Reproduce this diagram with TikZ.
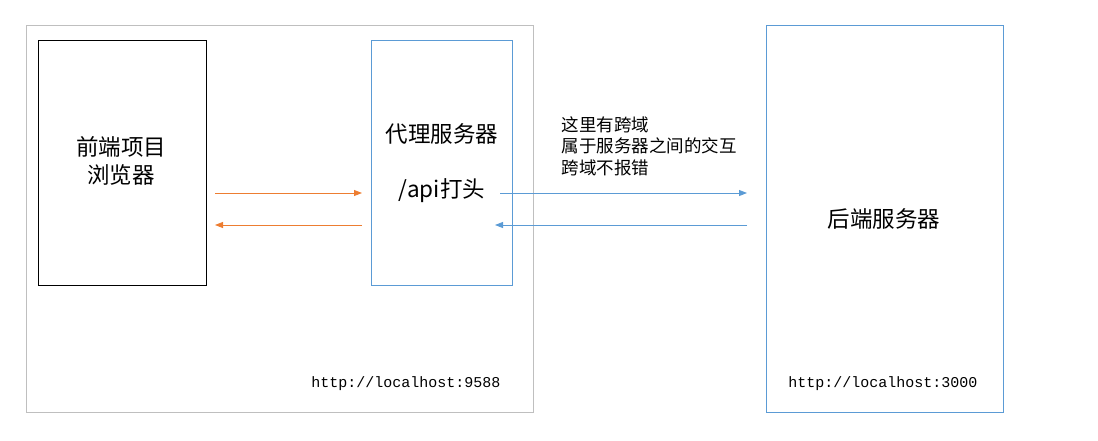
\documentclass[tikz,border=0pt]{standalone}
\usepackage{fontspec}
\setmainfont{Noto Sans CJK SC}
\setmonofont{Liberation Mono}
\usepackage{tikz}
\usetikzlibrary{arrows.meta,positioning}

\definecolor{boxblue}{HTML}{5B9BD5}
\definecolor{arroworange}{HTML}{ED7D31}

\begin{document}
\begin{tikzpicture}[x=1pt,y=-1pt]

\tikzset{box/.style={draw, minimum width=#1, inner sep=0pt, anchor=north west},
         big/.style={font=\fontsize{22.5}{28}\selectfont, align=center},
         url/.style={font=\ttfamily\fontsize{15}{16}\selectfont},
         orangearrow/.style={draw=arroworange, line width=0.9pt, -{Triangle[length=8pt,width=6pt]}},
         bluearrow/.style={draw=boxblue, line width=0.9pt, -{Triangle[length=8pt,width=6pt]}}}

\useasboundingbox (0,0) rectangle (1098,440);

% boxes
\node[box=507pt, minimum height=387pt, draw=black!25] (proxyhost) at (26,25) {};
\node[box=168pt, minimum height=245pt, draw=black, thick] (browser) at (38,40) {};
\node[box=141pt, minimum height=245pt, draw=boxblue] (proxy) at (371,40) {};
\node[box=237pt, minimum height=387pt, draw=boxblue] (server) at (766,25) {};

% texts
\node[big] (browsertext) at (121,161) {前端项目\\浏览器};
\node[big] (proxytext) at (442,134) {代理服务器};
\node[big] (apitext) at (442,191) {/api打头};
\node[big] (servertext) at (884,219) {后端服务器};
\node[font=\fontsize{17.5}{21.5}\selectfont, align=left, anchor=north west] (note) at (558,113)
  {这里有跨域\\属于服务器之间的交互\\跨域不报错};
\node[url] (proxyurl) at (406,384) {http://localhost:9588};
\node[url] (serverurl) at (883,384) {http://localhost:3000};

% arrows
\coordinate (p1) at (215,193);
\coordinate (p2) at (362,193);
\coordinate (p3) at (362,225);
\coordinate (p4) at (215,225);
\coordinate (s1) at (500,193);
\coordinate (s2) at (747,193);
\coordinate (s3) at (747,225);
\coordinate (s4) at (495,225);
\draw[orangearrow] (p1) -- (p2);
\draw[orangearrow] (p3) -- (p4);
\draw[bluearrow] (s1) -- (s2);
\draw[bluearrow] (s3) -- (s4);

\end{tikzpicture}
\end{document}
